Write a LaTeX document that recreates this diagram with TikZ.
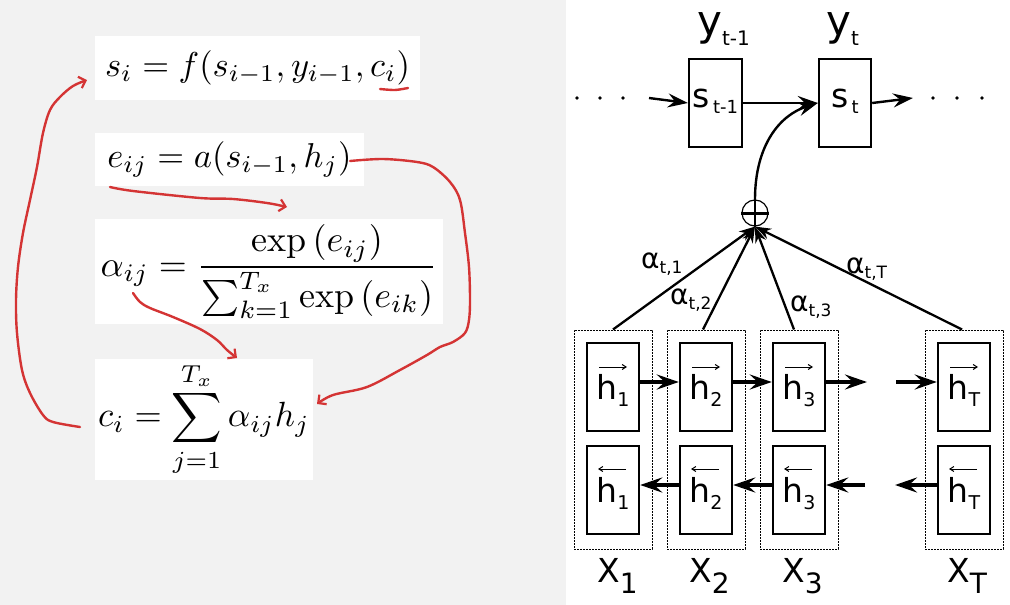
\documentclass[tikz,border=0pt]{standalone}
\usepackage{fontspec}
\usepackage{graphicx}
\newfontfamily\dv{DejaVu Sans}
\usetikzlibrary{arrows.meta}
\definecolor{bg}{RGB}{242,242,242}
\definecolor{pen}{RGB}{212,52,52}
\newcommand\fs[1]{\fontsize{#1}{#1}\selectfont}
\begin{document}
\begin{tikzpicture}[x=1pt,y=-1pt,
  fbx/.style={fill=white,draw=none,inner sep=0pt},
  redarrow/.style={draw=pen,line width=2.4pt,line cap=round,line join=round,-{Straight Barb[length=6pt,width=12pt,line width=2.2pt]}},
  redline/.style={draw=pen,line width=2.4pt,line cap=round},
  cell/.style={draw,line width=2.4pt,inner sep=0pt,minimum width=52pt,minimum height=88pt,font=\dv},
  hcell/.style={cell,text height=25pt,text depth=0pt},
  scell/.style={cell,text height=8pt,text depth=0pt},
  dbox/.style={draw,line width=1pt,dash pattern=on 2pt off 1pt,inner sep=0pt,minimum width=78pt,minimum height=219pt},
  harrow/.style={line width=2.4pt,-{Stealth[length=20pt,width=14pt,inset=7pt]}},
  fatarrow/.style={line width=4pt,-{Stealth[length=22pt,width=15pt,inset=8pt]}},
  attarrow/.style={line width=2.3pt,-{Stealth[length=16pt,width=11pt,inset=5pt]}},
  harp/.style={line width=1pt,-{Straight Barb[length=4pt,width=5pt]}},
  lab/.style={inner sep=0pt,anchor=base west,font=\dv}]
\useasboundingbox (0,0) rectangle (1010,605);
\fill[bg] (0,0) rectangle (566,605);

% ---- formulas
\node[fbx,minimum width=325pt,minimum height=64pt] (f1) at (257.5,68)
  {\scalebox{3.45}{$s_i = f(s_{i-1},y_{i-1},c_i)$}};
\node[fbx,minimum width=269pt,minimum height=53pt] (f2) at (229.5,159.5)
  {\scalebox{3.45}{$e_{ij} = a(s_{i-1},h_j)$}};
\node[fbx,minimum width=348pt,minimum height=105pt] (f3) at (269,271.5)
  {\scalebox{3.6}{$\displaystyle \alpha_{ij} = \frac{\exp\left(e_{ij}\right)}{\sum_{k=1}^{T_x}\exp\left(e_{ik}\right)}$}};
\node[fbx,minimum width=218pt,minimum height=121pt] (f4) at (204,419.5)
  {\scalebox{3.5}{$\displaystyle c_i = \sum_{j=1}^{T_x}\alpha_{ij}h_j$}};

% ---- red annotations
\draw[redarrow] plot[smooth,tension=0.55] coordinates {(80,427) (53,422) (43,415) (30,393) (22,370) (17,333) (16,300) (18,267) (23,233) (30,200) (37,167) (43,133) (50,110) (60,97) (73,86) (87,80)};
\draw[redline] plot[smooth] coordinates {(380,89) (395,90) (408,88)};
\draw[redarrow] plot[smooth,tension=0.55] coordinates {(110,187) (133,191) (200,198) (233,199) (267,203) (287,207)};
\draw[redarrow] plot[smooth,tension=0.55] coordinates {(350,161) (383,159) (417,162) (433,167) (450,182) (460,200) (465,233) (469,267) (470,300) (469,320) (465,333) (453,342) (440,347) (427,355) (400,370) (367,387) (333,395) (317,404)};
\draw[redarrow] plot[smooth,tension=0.55] coordinates {(133,293) (140,302) (150,308) (173,317) (200,329) (217,340) (227,350) (237,358)};

% ---- decoder
\node[scell,minimum width=53pt] (st1) at (715.5,103) {\fs{33}s\hspace{3pt}\raisebox{-6pt}{\fs{18}t-1}};
\node[scell] (st) at (845,103) {\fs{33}s\hspace{3pt}\raisebox{-6pt}{\fs{18}t}};
\node[lab] (yt1) at (697,35) {\fs{42}y\raisebox{-10pt}{\fs{20}t-1}};
\node[lab] (yt) at (826,35) {\fs{42}y\raisebox{-10pt}{\fs{20}t}};
\foreach \x in {577,600,623,933,957,982} \fill (\x,98) circle (1.8);
\coordinate (inL) at (649,98);
\coordinate (outR) at (913,98);
\draw[harrow] (inL) -- (st1.west);
\draw[harrow] (st1.east) -- (st.west);
\draw[harrow] (st.east) -- (outR);

\node[circle,draw,line width=1.2pt,minimum size=26pt,inner sep=0pt] (sum) at (755,213) {};
\draw[line width=3pt] (sum.west) -- (sum.east);
\draw[line width=2.4pt] (sum.north) -- (sum.south);
\draw[harrow] (sum.north) .. controls (755,145) and (780,115) .. (st.west);

% ---- encoder
\foreach \n/\x in {1/613,2/706,3/799,T/964}{
  \node[dbox] (x\n) at (\x,439.5) {};
  \node[hcell] (hf\n) at (\x,387) {\fs{33}h\raisebox{-7pt}{\fs{19}\n}};
  \node[hcell] (hb\n) at (\x,490) {\fs{33}h\raisebox{-7pt}{\fs{19}\n}};
  \draw[harp] ([shift={(-14pt,20pt)}]hf\n.center) -- ++(28,0);
  \draw[harp] ([shift={(13pt,21pt)}]hb\n.center) -- ++(-28,0);
}
\node[lab] (lx1) at (597,582) {\fs{33}X\raisebox{-11pt}{\fs{28}1}};
\node[lab] (lx2) at (689,582) {\fs{33}X\raisebox{-11pt}{\fs{28}2}};
\node[lab] (lx3) at (782,582) {\fs{33}X\raisebox{-11pt}{\fs{28}3}};
\node[lab] (lxT) at (947,582) {\fs{33}X\raisebox{-11pt}{\fs{28}T}};

\coordinate (fa) at (867,382);
\coordinate (fb) at (896,382);
\coordinate (ba) at (865,485);
\coordinate (bb) at (895,485);
\draw[fatarrow] ([yshift=5pt]hf1.east) -- ([yshift=5pt]hf2.west);
\draw[fatarrow] ([yshift=5pt]hf2.east) -- ([yshift=5pt]hf3.west);
\draw[fatarrow] ([yshift=5pt]hf3.east) -- (fa);
\draw[fatarrow] (fb) -- ([yshift=5pt]hfT.west);
\draw[fatarrow] ([yshift=5pt]hb2.west) -- ([yshift=5pt]hb1.east);
\draw[fatarrow] ([yshift=5pt]hb3.west) -- ([yshift=5pt]hb2.east);
\draw[fatarrow] (ba) -- ([yshift=5pt]hb3.east);
\draw[fatarrow] ([yshift=5pt]hbT.west) -- (bb);

% ---- attention
\draw[attarrow] (x1.north) -- (sum.south);
\draw[attarrow] ([xshift=-3pt]x2.north) -- (sum.south);
\draw[attarrow] ([xshift=-5pt]x3.north) -- (sum.south);
\draw[attarrow] ([xshift=-2pt]xT.north) -- (sum.south);
\node[lab] (a1) at (641,268) {\fs{28}α\raisebox{-5pt}{\fs{17}t,1}};
\node[lab] (a2) at (670,304) {\fs{28}α\raisebox{-5pt}{\fs{17}t,2}};
\node[lab] (a3) at (790,311) {\fs{28}α\raisebox{-5pt}{\fs{17}t,3}};
\node[lab] (aT) at (846,273) {\fs{28}α\raisebox{-5pt}{\fs{17}t,T}};
\end{tikzpicture}
\end{document}
